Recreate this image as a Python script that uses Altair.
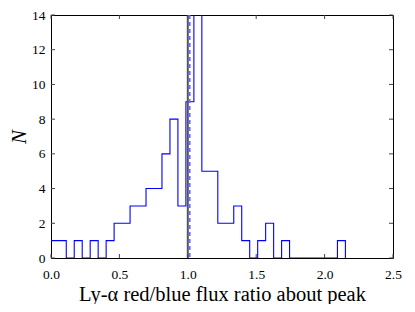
import altair as alt
import pandas as pd

# histogram definition
bin_start = -0.005
bin_width = 0.0583
counts = [1, 1, 0, 1, 0, 1, 0, 1, 2, 2, 3, 3, 4, 4, 6, 8, 3, 9, 16, 5,
          5, 2, 2, 3, 1, 0, 1, 2, 0, 1, 0, 0, 0, 0, 0, 0, 1]

x_ticks = [0.0, 0.5, 1.0, 1.5, 2.0, 2.5]
y_ticks = [0, 2, 4, 6, 8, 10, 12, 14]

solid_line_x = [1.0]
dashed_line_x = [1.013]

W, H = 342, 243

# build step outline (matplotlib histtype='step')
edges = [bin_start + i * bin_width for i in range(len(counts) + 1)]
pts = [(edges[0], 0)]
for i, c in enumerate(counts):
    pts.append((edges[i], c))
    pts.append((edges[i + 1], c))
pts.append((edges[-1], 0))
step_df = pd.DataFrame({"x": [p[0] for p in pts], "y": [p[1] for p in pts],
                        "o": list(range(len(pts)))})

xs = alt.Scale(domain=[0, 2.5], nice=False)
ys = alt.Scale(domain=[0, 14], nice=False)

FONT = "Liberation Serif"

xa = alt.Axis(values=x_ticks, format=".1f", title="Ly-α red/blue flux ratio about peak",
              tickSize=0, domain=False, grid=False, labelPadding=9,
              labelOverlap=False, labelFlush=False,
              labelFont=FONT, labelFontSize=13.5, labelColor="#000",
              titleFont=FONT, titleFontSize=20.5, titleFontWeight="normal",
              titleColor="#000", titlePadding=4)
ya = alt.Axis(values=y_ticks, title="N", tickSize=0, domain=False, grid=False,
              labelOverlap=False, labelFlush=False,
              labelPadding=6, labelFont=FONT, labelFontSize=13.5, labelColor="#000",
              titleFont=FONT, titleFontSize=21, titleFontWeight="normal",
              titleFontStyle="italic", titleColor="#000", titlePadding=2)

hist = alt.Chart(step_df).mark_line(color="#0000ff", strokeWidth=1.1, clip=True,
                                    interpolate="linear").encode(
    x=alt.X("x:Q", scale=xs, axis=xa),
    y=alt.Y("y:Q", scale=ys, axis=ya),
    order="o:O",
)

solid = alt.Chart(pd.DataFrame({"x": solid_line_x})).mark_rule(
    color="#555555", strokeWidth=2).encode(x=alt.X("x:Q", scale=xs, axis=xa))
dashed = alt.Chart(pd.DataFrame({"x": dashed_line_x})).mark_rule(
    color="#6a6aff", strokeWidth=2, strokeDash=[4, 3]).encode(x=alt.X("x:Q", scale=xs, axis=xa))

xt = pd.DataFrame({"t": x_ticks})
yt = pd.DataFrame({"t": y_ticks})
tick_color = "#444444"
bt = alt.Chart(xt).mark_rule(color=tick_color).encode(
    x=alt.X("t:Q", scale=xs, axis=xa), y=alt.value(H), y2=alt.value(H - 4))
tt = alt.Chart(xt).mark_rule(color=tick_color).encode(
    x=alt.X("t:Q", scale=xs, axis=xa), y=alt.value(0), y2=alt.value(4))
lt = alt.Chart(yt).mark_rule(color=tick_color).encode(
    y=alt.Y("t:Q", scale=ys, axis=ya), x=alt.value(0), x2=alt.value(4))
rt = alt.Chart(yt).mark_rule(color=tick_color).encode(
    y=alt.Y("t:Q", scale=ys, axis=ya), x=alt.value(W), x2=alt.value(W - 4))

chart = alt.layer(hist, solid, dashed, bt, tt, lt, rt).properties(
    width=W, height=H,
    autosize=alt.AutoSizeParams(type="none"),
    padding={"left": 43, "top": 7, "right": 14, "bottom": 46},
).configure_view(stroke="#000000", strokeWidth=1)

chart.save("out.html", embed_options={"renderer": "svg", "actions": False})
